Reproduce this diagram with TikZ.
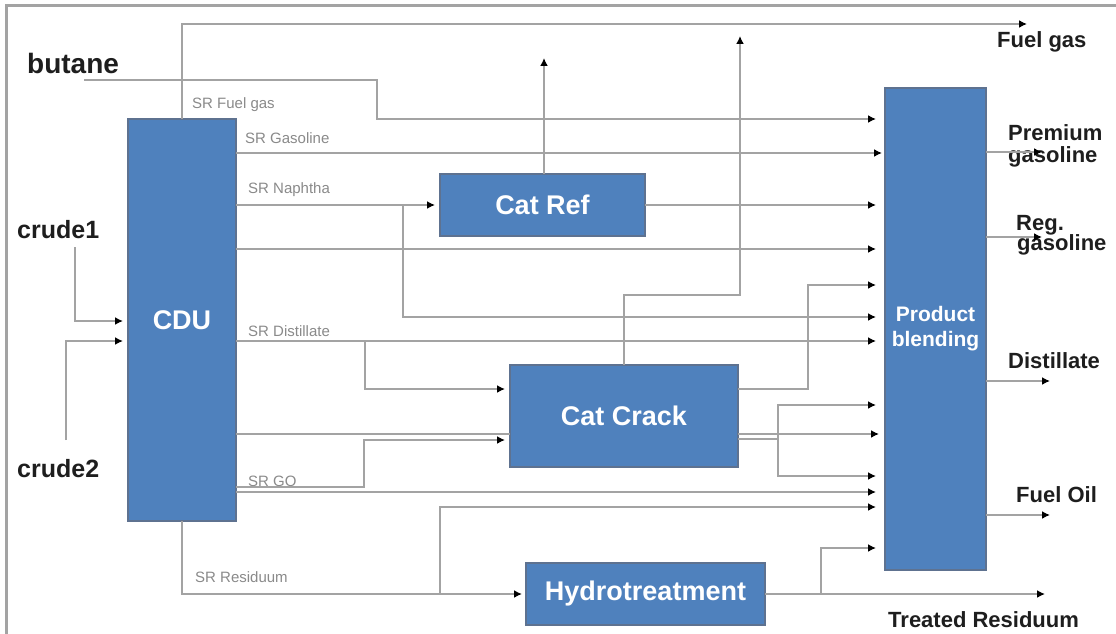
\documentclass[tikz,border=0pt]{standalone}
\usepackage{fontspec}
\setmainfont{Liberation Sans}
\usetikzlibrary{arrows.meta}

\definecolor{unitfill}{HTML}{4F81BD}
\definecolor{unitedge}{HTML}{5E7290}
\definecolor{pipe}{HTML}{A3A3A3}
\definecolor{tag}{HTML}{8A8A8A}
\definecolor{ink}{HTML}{1E1E1E}

\tikzset{
  unit/.style={draw=unitedge, fill=unitfill, line width=2pt, inner sep=0pt,
    outer sep=0pt, text=white, font=\fontsize{27}{30}\selectfont\bfseries},
  stream/.style={draw=pipe, line width=2.8pt},
  feed/.style={stream, -{Latex[length=8pt,width=8pt,color=black]}},
  streamname/.style={font=\fontsize{22}{24}\selectfont\bfseries, text=ink,
    inner sep=0pt, anchor=base west},
  sidename/.style={font=\fontsize{15}{17}\selectfont, text=tag,
    inner sep=0pt, anchor=base west},
}

\begin{document}
\begin{tikzpicture}[x=1pt,y=-1pt]
\fill[white] (0,0) rectangle (1116,634);
\useasboundingbox (0,0) rectangle (1116,634);

% outer frame (top and left edges)
\draw[pipe, line width=3pt] (6,634) -- (6,6) -- (1116,6);

% process units
\node[unit, minimum width=108pt, minimum height=402pt] (cdu) at (182,320) {CDU};
\node[unit, minimum width=205pt, minimum height=62pt] (catref) at (542.5,205) {Cat Ref};
\node[unit, minimum width=228pt, minimum height=102pt] (catcrack) at (624,416) {Cat Crack};
\node[unit, minimum width=239pt, minimum height=62pt] (hydro) at (645.5,594) {Hydrotreatment};
\node[unit, minimum width=101pt, minimum height=482pt, align=center,
      font=\fontsize{21}{25}\selectfont\bfseries] (blend) at (935.5,329) {Product\\blending};

% feed and product names
\node[streamname, font=\fontsize{28}{30}\selectfont\bfseries] (butane) at (27,74) {butane};
\node[streamname, font=\fontsize{25}{27}\selectfont\bfseries] (crude1) at (17,238) {crude1};
\node[streamname, font=\fontsize{25}{27}\selectfont\bfseries] (crude2) at (17,477) {crude2};
\node[streamname] (fuelgas) at (997,48) {Fuel gas};
\node[streamname] (premium) at (1008,140) {Premium};
\node[streamname] (premiumb) at (1008,162) {gasoline};
\node[streamname] (regular) at (1016,230) {Reg.};
\node[streamname] (regularb) at (1017,250) {gasoline};
\node[streamname] (distillate) at (1008,368) {Distillate};
\node[streamname] (fueloil) at (1016,502) {Fuel Oil};
\node[streamname] (treated) at (888,627) {Treated Residuum};

% straight-run cut names
\node[sidename] (lfg) at (192,108) {SR Fuel gas};
\node[sidename] (lgas) at (245,143) {SR Gasoline};
\node[sidename] (lnap) at (248,193) {SR Naphtha};
\node[sidename] (ldist) at (248,336) {SR Distillate};
\node[sidename] (lgo) at (248,486) {SR GO};
\node[sidename] (lres) at (195,582) {SR Residuum};

% end points of open streams
\coordinate (fgEnd) at (1027,24);
\coordinate (butStart) at (84,80);
\coordinate (crTop) at (544,58);
\coordinate (ccTop) at (740,36);
\coordinate (trEnd) at (1045,594);
\coordinate (pgEnd) at (1042,152);
\coordinate (rgEnd) at (1042,237);
\coordinate (dsEnd) at (1050,381);
\coordinate (foEnd) at (1050,515);
\coordinate (c1Start) at (75,247);
\coordinate (c2Start) at (66,440);

% crude feeds
\draw[feed, shorten >=5pt] (c1Start) |- (cdu.west |- 0,321);
\draw[feed, shorten >=5pt] (c2Start) |- (cdu.west |- 0,341);

% butane to blending
\draw[feed, shorten >=9pt] (butStart) -- (377,80) |- (blend.west |- 0,119);

% SR fuel gas
\draw[feed] (cdu.north) |- (fgEnd);

% SR gasoline
\draw[feed, shorten >=3pt] (cdu.east |- 0,153) -- (blend.west |- 0,153);

% SR naphtha
\draw[feed, shorten >=5pt] (cdu.east |- 0,205) -- (catref.west |- 0,205);
\draw[feed, shorten >=9pt] (403,205) |- (blend.west |- 0,317);

% unnamed CDU side stream
\draw[feed, shorten >=9pt] (cdu.east |- 0,249) -- (blend.west |- 0,249);

% SR distillate
\draw[feed, shorten >=9pt] (cdu.east |- 0,341) -- (blend.west |- 0,341);
\draw[feed, shorten >=5pt] (365,341) |- (catcrack.west |- 0,389);

% CDU to cat crack
\draw[stream] (cdu.east |- 0,434) -- (catcrack.west |- 0,434);

% SR gas oil
\draw[feed, shorten >=5pt] (cdu.east |- 0,487) -- (364,487) |- (catcrack.west |- 0,440);
\draw[feed, shorten >=9pt] (cdu.east |- 0,492) -- (blend.west |- 0,492);

% SR residuum
\draw[feed, shorten >=4pt] (cdu.south) |- (hydro.west);
\draw[feed, shorten >=9pt] (440,594) |- (blend.west |- 0,507);

% cat reformer products
\draw[feed, shorten >=9pt] (catref.east) -- (blend.west |- catref.east);
\draw[feed] (catref.north -| crTop) -- (crTop);

% cat cracker products
\draw[feed] (catcrack.north) -- (catcrack.north |- 0,295) -| (ccTop);
\draw[feed, shorten >=9pt] (catcrack.east |- 0,389) -- (808,389) |- (blend.west |- 0,285);
\draw[feed, shorten >=6pt] (catcrack.east |- 0,434) -- (blend.west |- 0,434);
\draw[feed, shorten >=9pt] (catcrack.east |- 0,439) -- (778,439) |- (blend.west |- 0,405);
\draw[feed, shorten >=9pt] (778,439) |- (blend.west |- 0,476);

% hydrotreater products
\draw[feed] (hydro.east) -- (trEnd);
\draw[feed, shorten >=9pt] (821,594) |- (blend.west |- 0,548);

% blended products
\draw[feed] (blend.east |- pgEnd) -- (pgEnd);
\draw[feed] (blend.east |- rgEnd) -- (rgEnd);
\draw[feed] (blend.east |- dsEnd) -- (dsEnd);
\draw[feed] (blend.east |- foEnd) -- (foEnd);
\end{tikzpicture}
\end{document}
